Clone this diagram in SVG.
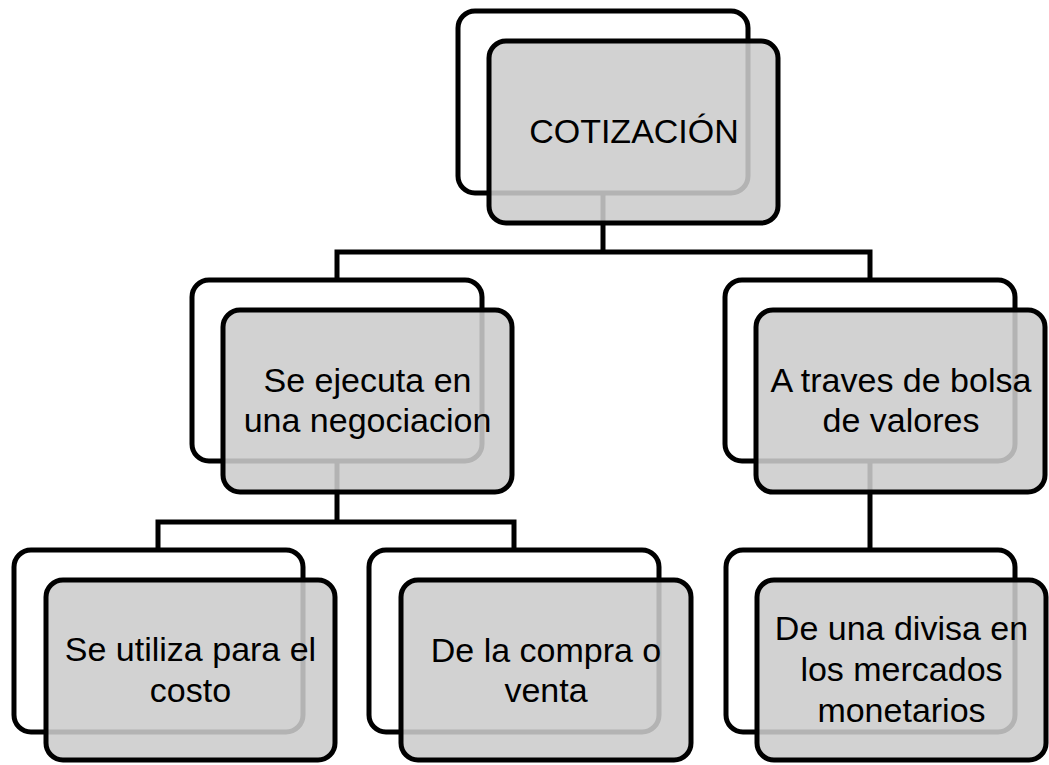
<svg xmlns="http://www.w3.org/2000/svg" width="1049" height="765" viewBox="0 0 1049 765">
<style>
.back{fill:#ffffff;stroke:#000000;stroke-width:5}
.front{fill:#cccccc;fill-opacity:0.88;stroke:#000000;stroke-width:5}
.conn{fill:none;stroke:#000000;stroke-width:5;stroke-linejoin:miter}
.t{font-family:"Liberation Sans",Arial,sans-serif;font-size:34px;fill:#000000;text-anchor:middle}
</style>
<rect width="1049" height="765" fill="#ffffff"/>
<g id="backs">
<rect class="back" x="458" y="11" width="290" height="182" rx="17"/>
<rect class="back" x="192" y="280" width="290" height="181" rx="17"/>
<rect class="back" x="725" y="280" width="290" height="181" rx="17"/>
<rect class="back" x="14" y="550" width="289" height="182" rx="17"/>
<rect class="back" x="369" y="550" width="290" height="182" rx="17"/>
<rect class="back" x="726" y="550" width="289" height="182" rx="17"/>
</g>
<g id="connectors">
<path class="conn" d="M603 192 V252"/>
<path class="conn" d="M337 280 V252 H870 V280"/>
<path class="conn" d="M337 461 V522"/>
<path class="conn" d="M158 550 V522 H514 V550"/>
<path class="conn" d="M870 461 V550"/>
</g>
<g id="n-cotizacion">
<rect class="front" x="489" y="41" width="289" height="182" rx="17"/>
<text class="t" x="634" y="143">COTIZACIÓN</text>
</g>
<g id="n-ejecuta">
<rect class="front" x="223" y="310" width="289" height="182" rx="17"/>
<text class="t" x="367.5" y="392">Se ejecuta en</text>
<text class="t" x="367.5" y="432">una negociacion</text>
</g>
<g id="n-bolsa">
<rect class="front" x="756" y="310" width="289" height="182" rx="17"/>
<text class="t" x="901" y="392">A traves de bolsa</text>
<text class="t" x="901" y="432">de valores</text>
</g>
<g id="n-costo">
<rect class="front" x="46" y="580" width="289" height="180" rx="17"/>
<text class="t" x="190.5" y="661">Se utiliza para el</text>
<text class="t" x="190.5" y="702">costo</text>
</g>
<g id="n-compra">
<rect class="front" x="401" y="580" width="290" height="180" rx="17"/>
<text class="t" x="546" y="662">De la compra o</text>
<text class="t" x="546" y="702">venta</text>
</g>
<g id="n-divisa">
<rect class="front" x="757" y="580" width="289" height="180" rx="17"/>
<text class="t" x="901.5" y="640">De una divisa en</text>
<text class="t" x="901.5" y="681">los mercados</text>
<text class="t" x="901.5" y="722">monetarios</text>
</g>
</svg>
